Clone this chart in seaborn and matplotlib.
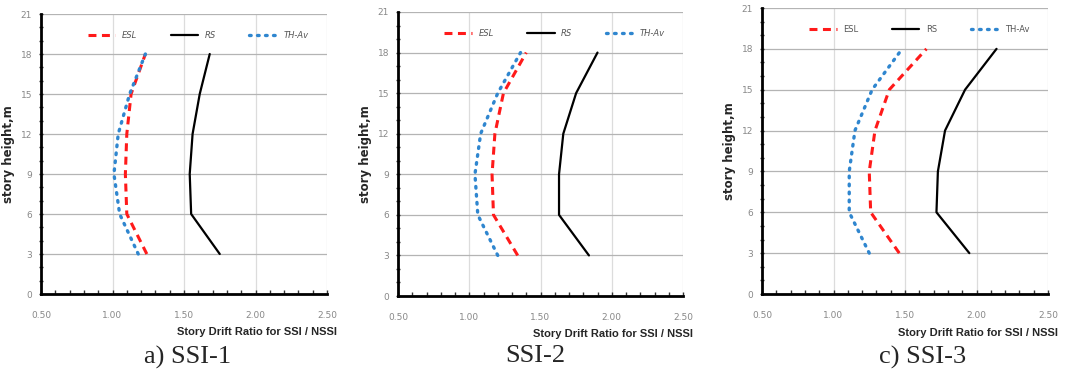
import matplotlib
matplotlib.use("Agg")
import matplotlib.pyplot as plt
import seaborn as sns
import pandas as pd
from matplotlib.ticker import MultipleLocator

# story levels (m)
heights = [3, 6, 9, 12, 15, 18]

# drift ratio SSI / NSSI, one list per method and case
esl_1 = [1.24, 1.10, 1.09, 1.10, 1.13, 1.23]
rs_1 = [1.75, 1.55, 1.54, 1.56, 1.61, 1.68]
th_1 = [1.18, 1.05, 1.01, 1.04, 1.12, 1.23]

esl_2 = [1.34, 1.17, 1.16, 1.18, 1.24, 1.40]
rs_2 = [1.84, 1.63, 1.63, 1.66, 1.75, 1.90]
th_2 = [1.20, 1.06, 1.04, 1.08, 1.20, 1.36]

esl_3 = [1.46, 1.26, 1.25, 1.29, 1.39, 1.65]
rs_3 = [1.95, 1.72, 1.73, 1.78, 1.92, 2.14]
th_3 = [1.25, 1.11, 1.11, 1.15, 1.27, 1.48]

captions = ["a) SSI-1", "SSI-2", "c) SSI-3"]
legend_names = ["ESL", "RS", "TH-Av"]

sns.set_style("white")
plt.rcParams['font.family'] = ['DejaVu Sans']

fig = plt.figure(figsize=(10.7, 3.74), dpi=100)

# axes boxes in figure pixels: left, top, right, bottom
boxes = [(41, 14, 327, 294), (398, 12, 683, 296), (762, 8, 1048, 294)]
caption_pos = [(188, 357), (535, 356), (923, 357)]
W, H = 1070, 374

cases = [(esl_1, rs_1, th_1), (esl_2, rs_2, th_2), (esl_3, rs_3, th_3)]
styles = [
    dict(color="#ff1a1a", linestyle=(0, (2.6, 1.8)), linewidth=2.2),
    dict(color="black", linestyle="-", linewidth=1.6),
    dict(color="#2f86cf", linestyle=(0, (0.5, 1.9)), linewidth=2.4, dash_capstyle="round"),
]

for i, (series, box) in enumerate(zip(cases, boxes)):
    l, t, r, b = box
    ax = fig.add_axes([l / W, (H - b) / H, (r - l) / W, (b - t) / H])

    for name, vals, st in zip(legend_names, series, styles):
        df = pd.DataFrame({"ratio": vals, "height": heights})
        sns.lineplot(data=df, x="ratio", y="height", ax=ax, orient="y",
                     estimator=None, label=name, **st)

    ax.set_xlim(0.5, 2.5)
    ax.set_ylim(0, 21)
    ax.xaxis.set_major_locator(MultipleLocator(0.5))
    ax.xaxis.set_minor_locator(MultipleLocator(0.1))
    ax.yaxis.set_major_locator(MultipleLocator(3))
    ax.yaxis.set_minor_locator(MultipleLocator(1))
    ax.set_xticks([0.5, 1.0, 1.5, 2.0, 2.5])
    ax.set_xticklabels(["0.50", "1.00", "1.50", "2.00", "2.50"])

    ax.grid(True, axis="y", color="#b4b4b4", linewidth=0.9)
    ax.grid(True, axis="x", color="#dcdcdc", linewidth=0.9)
    ax.set_axisbelow(True)

    for side in ["top", "right"]:
        ax.spines[side].set_visible(False)
    for side in ["left", "bottom"]:
        ax.spines[side].set_color("black")
        ax.spines[side].set_linewidth(2.0)

    ax.tick_params(axis="both", which="both", bottom=True, left=True)
    ax.tick_params(axis="x", which="both", direction="in", length=3,
                   width=1.0, color="#333333")
    ax.tick_params(axis="y", which="both", direction="inout", length=3,
                   width=1.0, color="#333333")
    ax.tick_params(axis="both", which="major", labelsize=6.5, labelcolor="#888888")
    ax.tick_params(axis="x", which="major", pad=12)
    ax.tick_params(axis="y", which="major", pad=5)

    ax.set_xlabel("")
    ax.set_ylabel("story height,m", fontsize=8.5, fontweight="bold", labelpad=4)

    ax.text(1.035, -0.135, "Story Drift Ratio for SSI / NSSI", transform=ax.transAxes,
            ha="right", va="center", fontsize=8, fontweight="bold",
            family=["Liberation Sans Narrow", "Liberation Sans", "DejaVu Sans"])

    leg = ax.legend(loc="center", bbox_to_anchor=(0.55, 0.925), ncol=3, frameon=False,
                    fontsize=6, handlelength=3.3, columnspacing=4.0, handletextpad=0.8)
    for txt in leg.get_texts():
        txt.set_color("#555555")
        if i < 2:
            txt.set_fontstyle("italic")

    cx, cy = caption_pos[i]
    fig.text(cx / W, (H - cy) / H, captions[i], ha="center", va="center",
             fontsize=19, family=["Liberation Serif", "DejaVu Serif"])

fig.savefig("out.png", dpi=100)
